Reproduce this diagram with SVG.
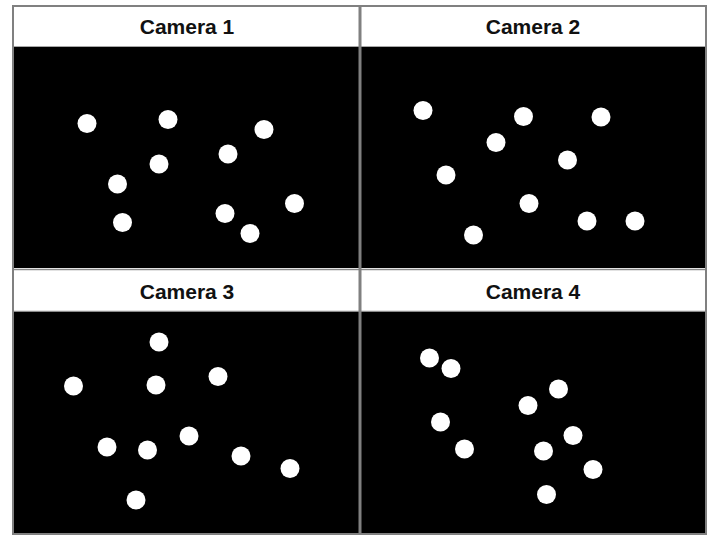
<svg xmlns="http://www.w3.org/2000/svg" width="720" height="540" viewBox="0 0 720 540">
<style>
.hdr{fill:#ffffff;stroke:#8a8a8a;stroke-width:1.5}
.img{fill:#000000}
.dot{fill:#ffffff}
.lbl{font-family:"Liberation Sans",Arial,sans-serif;font-weight:bold;font-size:21px;fill:#111111;text-anchor:middle}
.frame{fill:none;stroke:#808080;stroke-width:2}
.div{stroke:#808080;stroke-width:3}
</style>
<rect x="0" y="0" width="720" height="540" fill="#ffffff"/>
<g id="camera1">
<rect class="hdr" x="13" y="6" width="347" height="41"/>
<text class="lbl" x="187" y="34">Camera 1</text>
<rect class="img" x="13" y="47" width="347" height="221"/>
<circle class="dot" cx="87" cy="123.5" r="9.5"/>
<circle class="dot" cx="168" cy="119.5" r="9.5"/>
<circle class="dot" cx="264" cy="129.5" r="9.5"/>
<circle class="dot" cx="159" cy="164" r="9.5"/>
<circle class="dot" cx="228" cy="154" r="9.5"/>
<circle class="dot" cx="117.5" cy="184" r="9.5"/>
<circle class="dot" cx="122.5" cy="222.5" r="9.5"/>
<circle class="dot" cx="225" cy="213.5" r="9.5"/>
<circle class="dot" cx="250" cy="233.5" r="9.5"/>
<circle class="dot" cx="294.5" cy="203.5" r="9.5"/>
</g>
<g id="camera2">
<rect class="hdr" x="360" y="6" width="346" height="41"/>
<text class="lbl" x="533" y="34">Camera 2</text>
<rect class="img" x="360" y="47" width="346" height="221"/>
<circle class="dot" cx="423" cy="110.5" r="9.5"/>
<circle class="dot" cx="523.5" cy="116.5" r="9.5"/>
<circle class="dot" cx="601" cy="117" r="9.5"/>
<circle class="dot" cx="496" cy="142.5" r="9.5"/>
<circle class="dot" cx="567.5" cy="160" r="9.5"/>
<circle class="dot" cx="446" cy="175" r="9.5"/>
<circle class="dot" cx="529" cy="203.5" r="9.5"/>
<circle class="dot" cx="473.5" cy="235" r="9.5"/>
<circle class="dot" cx="587" cy="221" r="9.5"/>
<circle class="dot" cx="635" cy="221" r="9.5"/>
</g>
<g id="camera3">
<rect class="hdr" x="13" y="269.5" width="347" height="42"/>
<text class="lbl" x="187" y="299">Camera 3</text>
<rect class="img" x="13" y="312" width="347" height="222"/>
<circle class="dot" cx="159" cy="342" r="9.5"/>
<circle class="dot" cx="73.5" cy="386" r="9.5"/>
<circle class="dot" cx="156" cy="385" r="9.5"/>
<circle class="dot" cx="218" cy="376.5" r="9.5"/>
<circle class="dot" cx="107" cy="447" r="9.5"/>
<circle class="dot" cx="147.5" cy="450" r="9.5"/>
<circle class="dot" cx="189" cy="436" r="9.5"/>
<circle class="dot" cx="241" cy="456" r="9.5"/>
<circle class="dot" cx="290" cy="468.5" r="9.5"/>
<circle class="dot" cx="136" cy="500" r="9.5"/>
</g>
<g id="camera4">
<rect class="hdr" x="360" y="269.5" width="346" height="42"/>
<text class="lbl" x="533" y="299">Camera 4</text>
<rect class="img" x="360" y="312" width="346" height="222"/>
<circle class="dot" cx="429.5" cy="358" r="9.5"/>
<circle class="dot" cx="451" cy="368.5" r="9.5"/>
<circle class="dot" cx="558.5" cy="389" r="9.5"/>
<circle class="dot" cx="528" cy="405.5" r="9.5"/>
<circle class="dot" cx="440.5" cy="422" r="9.5"/>
<circle class="dot" cx="573" cy="435.5" r="9.5"/>
<circle class="dot" cx="464.5" cy="449" r="9.5"/>
<circle class="dot" cx="543.5" cy="451" r="9.5"/>
<circle class="dot" cx="593" cy="469.5" r="9.5"/>
<circle class="dot" cx="546.5" cy="494.5" r="9.5"/>
</g>
<g id="frame">
<rect class="frame" x="13" y="6" width="693" height="528"/>
<line class="div" x1="360" y1="6" x2="360" y2="534"/>
</g>
</svg>
